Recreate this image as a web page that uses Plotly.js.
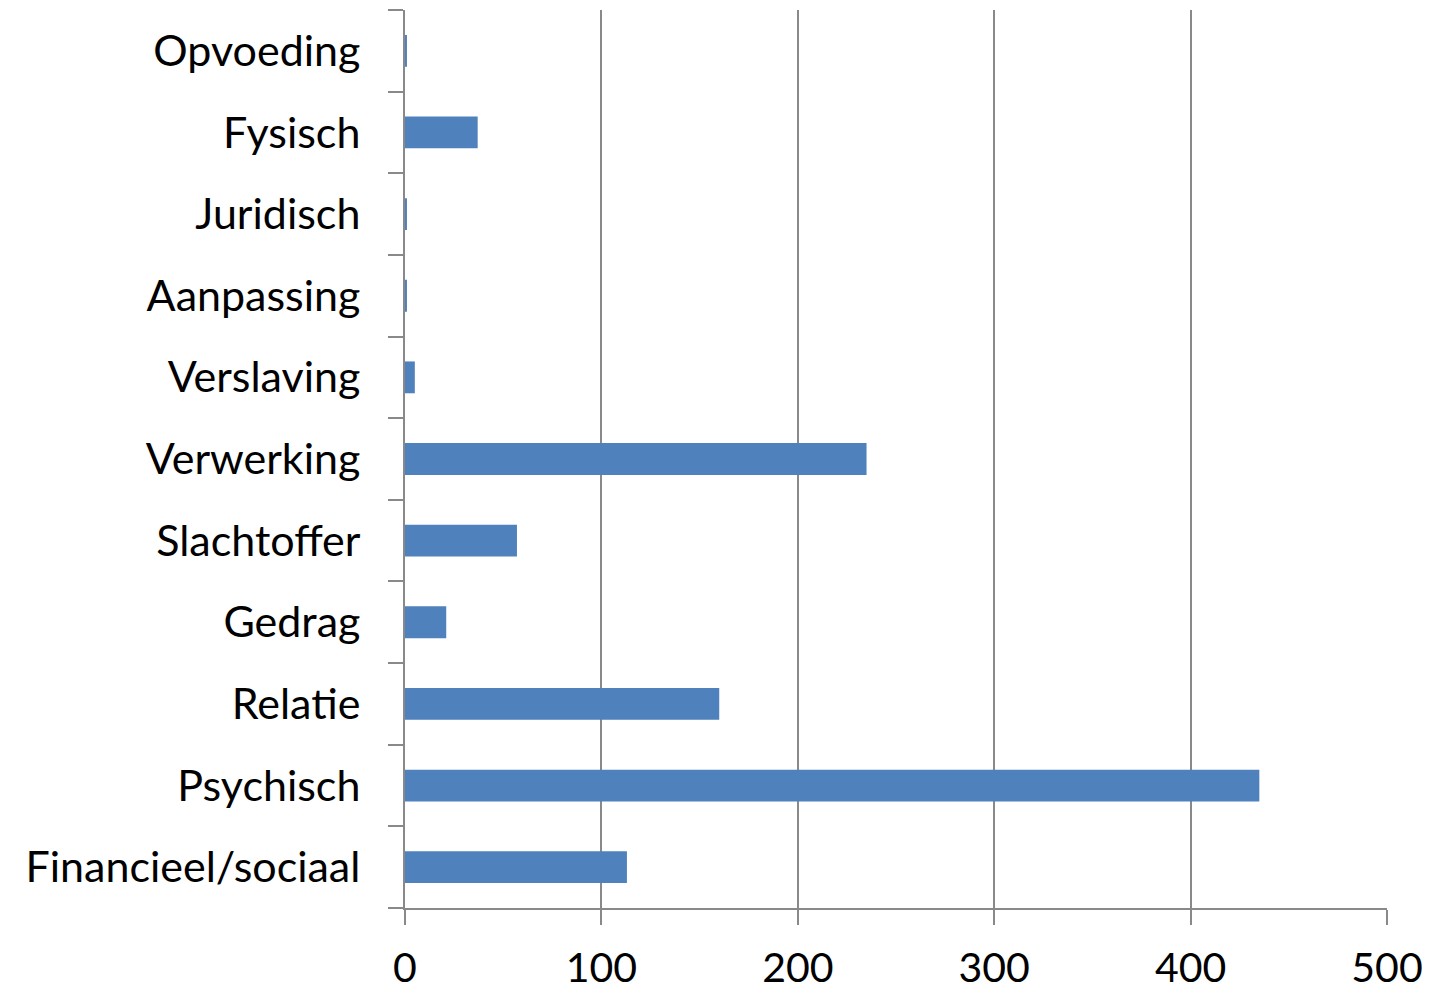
<!DOCTYPE html>
<html>
<head>
<meta charset="utf-8">
<script src="https://cdn.plot.ly/plotly-3.0.1.min.js"></script>
<style>html,body{margin:0;padding:0;background:#fff;}#chart{width:1429px;height:992px;}</style>
</head>
<body>
<div id="chart"></div>
<script>
const categories = ["Financieel/sociaal","Psychisch","Relatie","Gedrag","Slachtoffer","Verwerking","Verslaving","Aanpassing","Juridisch","Fysisch","Opvoeding"];
const values = [113, 435, 160, 21, 57, 235, 5, 1, 1, 37, 1];
const xTicks = [0, 100, 200, 300, 400, 500];

const lineColor = "#898989";
const trace = {
  type: "bar",
  orientation: "h",
  y: categories,
  x: values,
  marker: {color: "#4F81BD", line: {width: 0}},
  hoverinfo: "x+y"
};
const layout = {
  width: 1429, height: 992,
  margin: {l: 405, r: 42, t: 10, b: 84},
  paper_bgcolor: "#fff", plot_bgcolor: "#fff",
  bargap: 0.61,
  showlegend: false,
  font: {family: "Lato, 'Open Sans', sans-serif", size: 40, color: "#000"},
  xaxis: {
    range: [0, 500], tickvals: xTicks, ticktext: xTicks.map(String),
    showgrid: true, gridcolor: lineColor, gridwidth: 2,
    zeroline: false, showline: true, linecolor: lineColor, linewidth: 2,
    ticks: "outside", ticklen: 15, tickcolor: lineColor, tickwidth: 2,
    ticklabelstandoff: 8,
    tickfont: {size: 41}
  },
  yaxis: {
    type: "category", categoryorder: "array", categoryarray: categories,
    showgrid: false, zeroline: false,
    showline: true, linecolor: lineColor, linewidth: 2,
    ticks: "outside", ticklen: 15, tickcolor: lineColor, tickwidth: 2,
    tickson: "boundaries",
    ticklabelstandoff: 34,
    tickfont: {size: 43}
  }
};
Plotly.newPlot("chart", [trace], layout, {displayModeBar: false, staticPlot: true});
</script>
</body>
</html>
